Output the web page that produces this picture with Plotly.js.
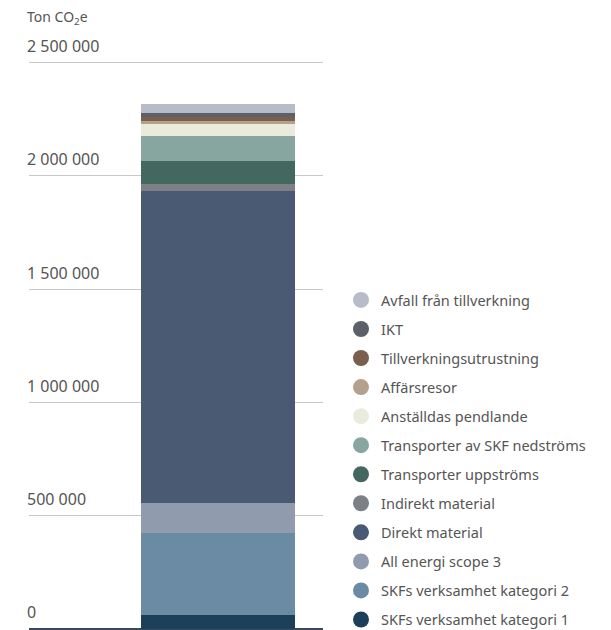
<!DOCTYPE html>
<html>
<head>
<meta charset="utf-8">
<script src="https://cdn.plot.ly/plotly-3.0.1.min.js"></script>
<style>html,body{margin:0;padding:0;background:#fff;}#chart{width:611px;height:630px;}</style>
</head>
<body>
<div id="chart"></div>
<script>
// Series from bottom to top of the stacked bar (ton CO2e)
const categories = [
  "SKFs verksamhet kategori 1",
  "SKFs verksamhet kategori 2",
  "All energi scope 3",
  "Direkt material",
  "Indirekt material",
  "Transporter uppströms",
  "Transporter av SKF nedströms",
  "Anställdas pendlande",
  "Affärsresor",
  "Tillverkningsutrustning",
  "IKT",
  "Avfall från tillverkning"
];
const values = [62000, 362000, 132000, 1377000, 31000, 101000, 110000, 53000, 15000, 18000, 16000, 40000];
const colors = ["#1c3f5a", "#6a8ba3", "#909cad", "#4a5a72", "#7d8085", "#426860", "#88a6a0", "#ebebdd", "#b3a18e", "#7a5f4c", "#5c6068", "#b8bcc8"];
const barX = ["Total"];
const tickVals = [0, 500000, 1000000, 1500000, 2000000, 2500000];

const textColor = "#555555";
const traces = [];
categories.forEach((name, i) => {
  traces.push({
    type: "bar", x: barX, y: [values[i]], name: name,
    marker: {color: colors[i], line: {width: 0}},
    width: 0.522, showlegend: false, hoverinfo: "name+y"
  });
});
// Legend entries (circles), listed top category first
for (let i = categories.length - 1; i >= 0; i--) {
  traces.push({
    type: "scatter", mode: "markers", x: [null], y: [null], name: categories[i],
    marker: {color: colors[i], size: 18, symbol: "circle"},
    legendgroup: "g" + i, showlegend: true
  });
}

const layout = {
  width: 611, height: 630,
  margin: {l: 29, r: 288, t: 20, b: 1},
  paper_bgcolor: "#ffffff", plot_bgcolor: "#ffffff",
  separators: ". ",
  barmode: "stack",
  bargap: 0,
  font: {family: "Noto Sans, sans-serif", color: textColor, size: 14},
  title: {
    text: "Ton CO<sub>2</sub>e",
    x: 27 / 611, xanchor: "left", xref: "container",
    y: 1 - 17 / 630, yanchor: "middle", yref: "container",
    font: {size: 14, color: textColor}
  },
  xaxis: {
    type: "category", range: [-0.643, 0.357],
    showgrid: false, zeroline: false, showline: false, showticklabels: false, fixedrange: true
  },
  yaxis: {
    range: [0, 2688000],
    tickvals: tickVals, tickformat: ",d",
    ticklabelposition: "inside top",
    ticklabelstandoff: -5,
    ticklabelshift: -5,
    showgrid: true, gridcolor: "#c8c8c8", gridwidth: 1,
    zeroline: true, zerolinecolor: "#3b4b5e", zerolinewidth: 2,
    showline: false, ticks: "",
    tickfont: {size: 16, color: textColor},
    layer: "above traces"
  },
  legend: {
    traceorder: "grouped",
    xref: "container", yref: "container",
    x: 341 / 611, xanchor: "left",
    y: 1 - 284 / 630, yanchor: "top",
    maxheight: 420,
    font: {size: 14.5, color: textColor},
    tracegroupgap: 7.2,
    bgcolor: "rgba(0,0,0,0)"
  },
  showlegend: true
};

Plotly.newPlot("chart", traces, layout, {displayModeBar: false, staticPlot: true});
</script>
</body>
</html>
